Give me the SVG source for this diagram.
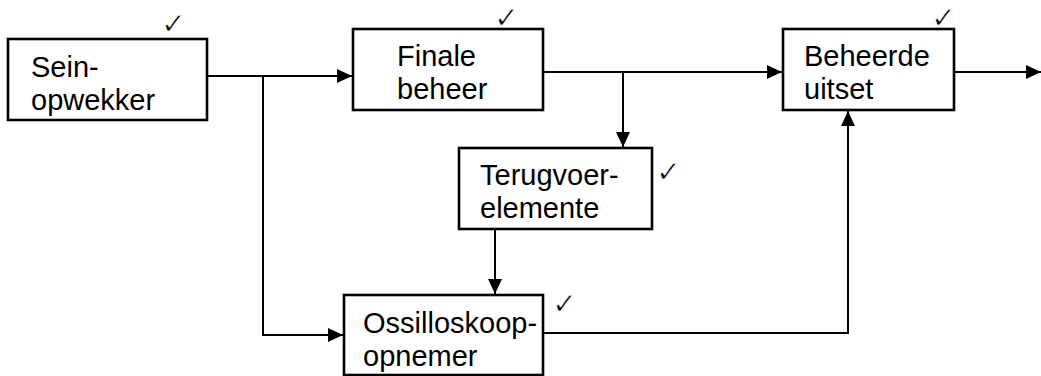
<svg xmlns="http://www.w3.org/2000/svg" width="1041" height="376" viewBox="0 0 1041 376">
<style>
.box{fill:#fff;stroke:#000;stroke-width:2.6}
.lbl{font-family:"Liberation Sans",Arial,sans-serif;font-size:29px;fill:#000}
.chk{font-family:"DejaVu Sans",sans-serif;font-size:30px;fill:#000;stroke:#fff;stroke-width:0.8}
.ln{fill:none;stroke:#000;stroke-width:2}
</style>
<defs>
<marker id="ah" markerUnits="userSpaceOnUse" markerWidth="16" markerHeight="14" refX="15" refY="7" orient="auto">
<path d="M0,0 L15,7 L0,14 Z" fill="#000"/>
</marker>
</defs>
<rect width="1041" height="376" fill="#fff"/>
<g id="connectors">
<path class="ln" d="M207,76 H352" marker-end="url(#ah)"/>
<path class="ln" d="M263,76 V335 H343" marker-end="url(#ah)"/>
<path class="ln" d="M543,72 H782" marker-end="url(#ah)"/>
<path class="ln" d="M623,72 V147" marker-end="url(#ah)"/>
<path class="ln" d="M495,229 V294" marker-end="url(#ah)"/>
<path class="ln" d="M543,333 H848 V111" marker-end="url(#ah)"/>
<path class="ln" d="M954,72 H1041" marker-end="url(#ah)"/>
</g>
<g id="sein">
<rect class="box" x="8" y="39" width="199" height="81"/>
<text class="lbl" x="31" y="77">Sein-</text>
<text class="lbl" x="31" y="110">opwekker</text>
<text class="chk" x="161" y="34">✓</text>
</g>
<g id="finale">
<rect class="box" x="353" y="29" width="190" height="81"/>
<text class="lbl" x="397" y="66">Finale</text>
<text class="lbl" x="397" y="99">beheer</text>
<text class="chk" x="494" y="28">✓</text>
</g>
<g id="beheerde">
<rect class="box" x="783" y="29" width="171" height="81"/>
<text class="lbl" x="804" y="66">Beheerde</text>
<text class="lbl" x="804" y="99">uitset</text>
<text class="chk" x="931" y="28">✓</text>
</g>
<g id="terugvoer">
<rect class="box" x="459" y="148" width="193" height="81"/>
<text class="lbl" x="480" y="185">Terugvoer-</text>
<text class="lbl" x="480" y="218">elemente</text>
<text class="chk" x="656" y="182">✓</text>
</g>
<g id="ossilloskoop">
<rect class="box" x="344" y="295" width="199" height="80"/>
<text class="lbl" x="363" y="333">Ossilloskoop-</text>
<text class="lbl" x="363" y="366">opnemer</text>
<text class="chk" x="552" y="314">✓</text>
</g>
</svg>
